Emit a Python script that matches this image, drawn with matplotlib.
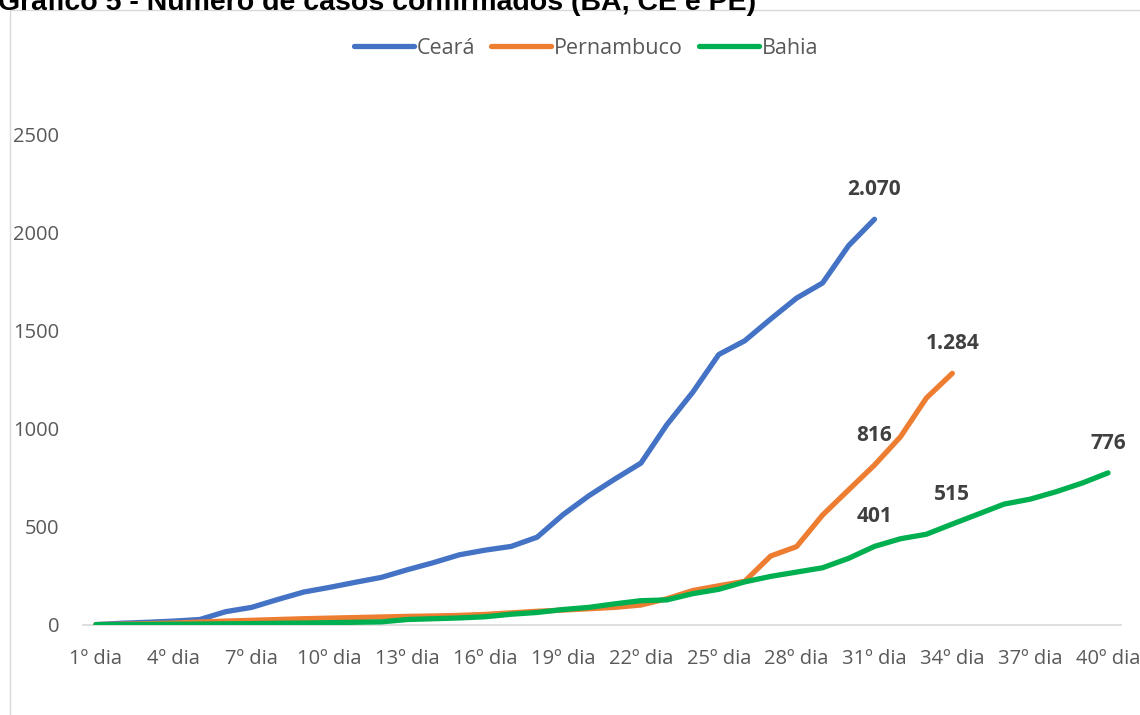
import matplotlib
matplotlib.use("Agg")
import matplotlib.pyplot as plt
from matplotlib.patches import Rectangle

# ---------------- data ----------------
title = "Gráfico 5 - Número de casos confirmados (BA, CE e PE)"
series_names = ["Ceará", "Pernambuco", "Bahia"]

ceara = [2, 9, 14, 20, 28, 68, 90, 130, 168, 192, 218, 243, 282, 318, 358,
         382, 401, 448, 563, 660, 745, 826, 1022, 1188, 1380, 1450, 1561,
         1668, 1745, 1935, 2070]
pernambuco = [2, 4, 7, 10, 15, 20, 24, 28, 32, 35, 38, 41, 44, 46, 49, 54,
              62, 70, 76, 83, 90, 102, 134, 176, 200, 223, 352, 400, 561,
              689, 816, 960, 1158, 1284]
bahia = [2, 2, 3, 4, 5, 6, 7, 9, 10, 12, 14, 16, 28, 32, 36, 42, 55, 64, 79,
         90, 108, 124, 128, 160, 182, 220, 248, 270, 292, 340, 401, 440, 463,
         515, 566, 617, 642, 680, 724, 776]

n_days = 40
day_labels = [f"{d}º dia" for d in range(1, n_days + 1)]
tick_days = list(range(1, n_days + 1, 3))
y_ticks = [0, 500, 1000, 1500, 2000, 2500]

# labelled points: (series index, day, text)
labels = [
    (0, 31, "2.070"),
    (1, 34, "1.284"),
    (1, 31, "816"),
    (2, 31, "401"),
    (2, 34, "515"),
    (2, 40, "776"),
]

colors = ["#4472C4", "#ED7D31", "#00B050"]

# ---------------- figure ----------------
W, H = 1140, 715
fig = plt.figure(figsize=(W / 100, H / 100), dpi=100)
fig.patch.set_facecolor("white")

# chart border
fig.add_artist(Rectangle((10 / W, -0.05), 1.2, (H - 10) / H + 0.05,
                         transform=fig.transFigure, fill=False,
                         edgecolor="#D9D9D9", linewidth=1.0))

# title (cut at top, as in reference)
fig.text(-2 / W, 1 - 10 / H, title, fontsize=20.5, fontweight="bold",
         family="Liberation Sans", color="black", ha="left", va="baseline")

left, right = 83, 1121
top, bottom = 135, 625
ax = fig.add_axes([left / W, 1 - bottom / H, (right - left) / W, (bottom - top) / H])
ax.set_facecolor("none")

font = "Open Sans"
series = [ceara, pernambuco, bahia]
lines = []
for name, vals, c in zip(series_names, series, colors):
    x = list(range(1, len(vals) + 1))
    ln, = ax.plot(x, vals, color=c, linewidth=3.8, solid_capstyle="round",
                  solid_joinstyle="round", label=name, zorder=3)
    lines.append(ln)

ax.set_xlim(0.5, n_days + 0.5)
ax.set_ylim(0, 2500)
ax.set_yticks(y_ticks)
ax.set_yticklabels([str(v) for v in y_ticks])
ax.set_xticks(tick_days)
ax.set_xticklabels([day_labels[d - 1] for d in tick_days])

for s in ["top", "right", "left"]:
    ax.spines[s].set_visible(False)
ax.spines["bottom"].set_color("#D9D9D9")
ax.spines["bottom"].set_linewidth(1.2)
ax.spines["bottom"].set_zorder(1)
ax.tick_params(axis="both", length=0, colors="#595959", labelsize=14.5)
ax.tick_params(axis="x", pad=17)
ax.tick_params(axis="y", pad=17)
for t in ax.get_xticklabels() + ax.get_yticklabels():
    t.set_family(font)

for si, d, txt in labels:
    v = series[si][d - 1]
    ax.annotate(txt, (d, v), xytext=(0, 21.5), textcoords="offset points",
                ha="center", va="center", fontsize=15, fontweight="bold",
                family=font, color="#404040")

leg = fig.legend(handles=lines, labels=series_names, loc="center",
                 bbox_to_anchor=(586 / W, 1 - 48 / H), ncol=3, frameon=False,
                 handlelength=2.8, handletextpad=0.12, columnspacing=0.75,
                 prop={"family": font, "size": 15.5})
for t in leg.get_texts():
    t.set_color("#595959")

fig.savefig("out.png", dpi=100)
